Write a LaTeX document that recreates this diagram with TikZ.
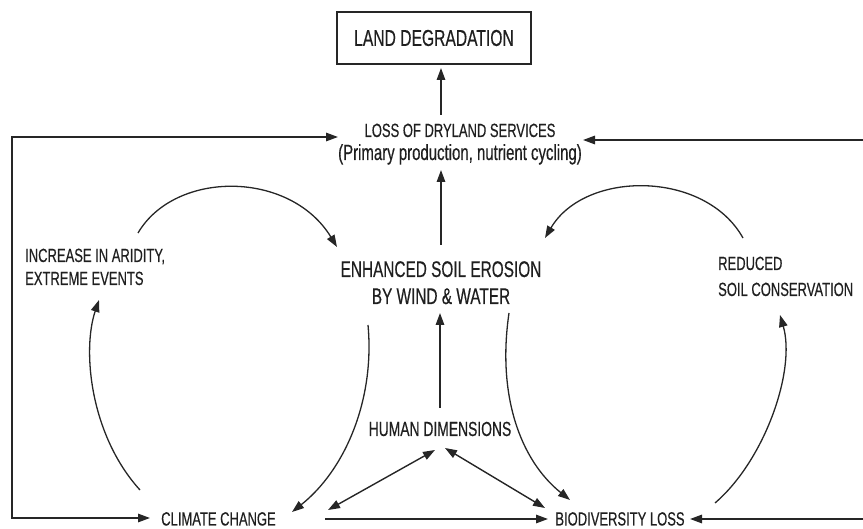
\documentclass[tikz,border=0pt]{standalone}
\usepackage{fontspec}
\setmainfont{Liberation Sans}[FakeStretch=0.68,FakeBold=0.4]
\usetikzlibrary{arrows.meta}
\begin{document}
\begin{tikzpicture}[x=1pt,y=-1pt,
  lbl/.style={inner sep=0pt, text=black!88, font=\fontsize{19.1}{23}\selectfont},
  tip/.tip={Triangle[length=12pt,width=8.5pt]},
  arr/.style={line width=1.4pt, draw=black!85, -tip},
  darr/.style={line width=1.4pt, draw=black!85, tip-tip},
  curve/.style={line width=1.3pt, draw=black!85, -tip}]
\useasboundingbox (0,0) rectangle (863,529);
% nodes
\node[draw, line width=1.4pt, draw=black!85, minimum width=194pt, minimum height=52pt, inner sep=0pt,
      text=black!88, font=\fontsize{23}{25}\selectfont] (land) at (434,38) {LAND DEGRADATION};
\node[lbl, anchor=base, align=center] (loss) at (460,160)
  {LOSS OF DRYLAND SERVICES\\{\fontsize{22}{23}\selectfont (Primary production, nutrient cycling)}};
\node[lbl, anchor=base, align=center, font=\fontsize{22.6}{27}\selectfont] (erosion) at (441,304)
  {ENHANCED SOIL EROSION\\BY WIND \& WATER};
\node[lbl, anchor=base west, align=left] (aridity) at (25,285) {INCREASE IN ARIDITY,\\EXTREME EVENTS};
\node[lbl, anchor=base west, align=left, font=\fontsize{19.1}{26}\selectfont] (conserv) at (718,296) {REDUCED\\SOIL CONSERVATION};
\node[lbl, anchor=base, font=\fontsize{20.4}{23}\selectfont] (human) at (440,436) {HUMAN DIMENSIONS};
\node[lbl, anchor=base] (climate) at (218.5,525.5) {CLIMATE CHANGE};
\node[lbl, anchor=base] (biodiv) at (620,525.5) {BIODIVERSITY LOSS};
% connector end points
\coordinate (lossS) at (441,115);  \coordinate (landS) at (441,68);
\coordinate (eroN) at (441,245);   \coordinate (lossB) at (441,170);
\coordinate (humN) at (440,408);   \coordinate (eroB) at (440,313);
\coordinate (lossW) at (338,137);  \coordinate (climW) at (150,518);
\coordinate (lossE) at (583,140);  \coordinate (bioE) at (690,519);
\coordinate (climE) at (325,519);  \coordinate (bioW) at (548,519);
\coordinate (humL) at (435,450);   \coordinate (climNE) at (328,510);
\coordinate (humR) at (445,448);   \coordinate (bioNW) at (545,508);
% straight arrows
\draw[arr] (lossS) -- (landS);
\draw[arr] (eroN) -- (lossB);
\draw[arr] (humN) -- (eroB);
\draw[arr] (climE) -- (bioW);
\draw[darr] (humL) -- (climNE);
\draw[darr] (humR) -- (bioNW);
% feedback loops
\draw[darr] (lossW) -- (12,137) -- (12,518) -- (climW);
\draw[darr] (lossE) -- (868,140) -- (868,519) -- (bioE);
% curved arrows
\draw[curve] (138,233) .. controls (175,170) and (290,170) .. (337,247);
\draw[curve] (743,238) .. controls (705,170) and (585,170) .. (545,238);
\draw[curve] (140,490) .. controls (90,435) and (82,350) .. (99,300);
\draw[curve] (368,325) .. controls (375,400) and (345,470) .. (292,512);
\draw[curve] (509,313) .. controls (497,395) and (520,460) .. (570,500);
\draw[curve] (715,503) .. controls (765,460) and (796,370) .. (780,315);
\end{tikzpicture}
\end{document}
